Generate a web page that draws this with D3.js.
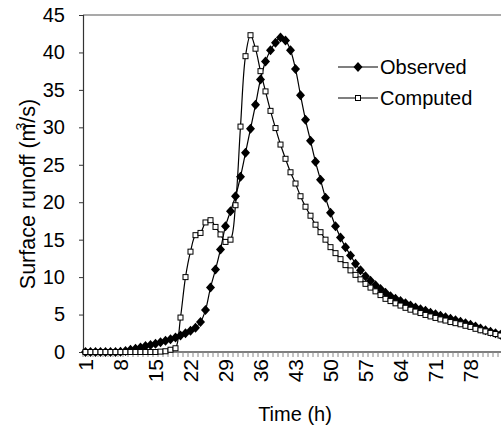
<!DOCTYPE html>
<html><head><meta charset="utf-8">
<script src="https://cdn.jsdelivr.net/npm/d3@7"></script>
<style>body{margin:0;background:#fff}svg{display:block;font-family:Arial,"Liberation Sans",sans-serif}</style>
</head><body>
<script>
const hours = [1,2,3,4,5,6,7,8,9,10,11,12,13,14,15,16,17,18,19,20,21,22,23,24,25,26,27,28,29,30,31,32,33,34,35,36,37,38,39,40,41,42,43,44,45,46,47,48,49,50,51,52,53,54,55,56,57,58,59,60,61,62,63,64,65,66,67,68,69,70,71,72,73,74,75,76,77,78,79,80,81,82,83,84];
const observed = [0,0,0,0,0,0,0,0.05,0.15,0.3,0.45,0.6,0.8,0.95,1.1,1.3,1.5,1.7,1.95,2.2,2.5,2.85,3.25,4.0,5.6,8.6,11.0,13.7,16.8,18.8,20.8,23.4,26.6,29.8,33.0,36.4,38.8,40.3,41.3,42.0,41.6,40.3,37.8,34.3,31.0,28.2,25.4,23.0,20.6,18.6,16.8,15.3,14.0,12.9,11.8,10.9,10.1,9.5,8.9,8.4,7.9,7.45,7.1,6.8,6.5,6.2,5.95,5.7,5.5,5.25,5.05,4.85,4.65,4.45,4.25,4.05,3.85,3.65,3.4,3.15,2.9,2.7,2.5,2.3];
const computed = [0,0,0,0,0,0,0,0,0,0,0,0,0,0,0,0.05,0.1,0.3,0.5,4.6,10.0,13.4,15.6,15.9,17.3,17.6,16.7,15.7,14.7,15.0,19.6,30.1,39.5,42.3,40.5,37.5,34.8,32.2,29.9,27.7,25.8,24.0,22.5,20.8,19.4,18.2,17.0,16.0,15.0,14.0,13.2,12.4,11.6,10.9,10.3,9.7,9.1,8.6,8.1,7.6,7.1,6.8,6.5,6.2,5.9,5.65,5.4,5.2,4.95,4.75,4.55,4.35,4.2,4.0,3.85,3.7,3.5,3.35,3.1,2.9,2.75,2.55,2.4,2.2];
const xTickLabels = [1,8,15,22,29,36,43,50,57,64,71,78];
const yTicks = [0,5,10,15,20,25,30,35,40,45];
const seriesNames = ["Observed","Computed"];

const W = 501, H = 430;
const pLeft = 83, pTop = 15, pBottom = 352, pRight = 503;
const svg = d3.select("body").append("svg").attr("width", W).attr("height", H);

const x = d3.scaleBand().domain(hours).range([pLeft, pRight]).padding(0);
const cx = d => x(d) + x.bandwidth() / 2;
const y = d3.scaleLinear().domain([0, 45]).range([pBottom, pTop]);

// plot border (top)
svg.append("line").attr("x1", pLeft).attr("x2", W).attr("y1", pTop).attr("y2", pTop)
  .attr("stroke", "#555").attr("stroke-width", 1.2);

// y axis
const yAxis = d3.axisLeft(y).tickValues(yTicks).tickSize(4).tickPadding(14);
const gy = svg.append("g").attr("transform", `translate(${pLeft},0)`).call(yAxis);
gy.select(".domain").attr("stroke", "#333").attr("stroke-width", 1.2);
gy.selectAll(".tick line").attr("stroke", "#333");
gy.selectAll("text").attr("font-size", 20).attr("fill", "#000").attr("font-family", "Arial, 'Liberation Sans', sans-serif");

// x axis line
svg.append("line").attr("x1", pLeft).attr("x2", W).attr("y1", pBottom).attr("y2", pBottom)
  .attr("stroke", "#000").attr("stroke-width", 1.2);
// minor ticks between categories
svg.append("g").selectAll("line").data(hours).join("line")
  .attr("x1", d => x(d)).attr("x2", d => x(d))
  .attr("y1", pBottom).attr("y2", pBottom + 5)
  .attr("stroke", "#888").attr("stroke-width", 1);
// x tick labels
svg.append("g").selectAll("text").data(xTickLabels).join("text")
  .attr("transform", d => `translate(${cx(d) + 7.5},${pBottom + 7}) rotate(-90)`)
  .attr("text-anchor", "end").attr("font-size", 21).text(d => d);

// titles
svg.append("text").attr("x", 295).attr("y", 421).attr("text-anchor", "middle")
  .attr("font-size", 20).text("Time (h)");
const yt = svg.append("text").attr("transform", "translate(35,194) rotate(-90)")
  .attr("text-anchor", "middle").attr("font-size", 21.5);
yt.append("tspan").text("Surface runoff (m");
yt.append("tspan").attr("font-size", 14).attr("dy", -9).attr("dx", -7).text("3");
yt.append("tspan").attr("dy", 9).text("/s)");

const line = d3.line().curve(d3.curveCatmullRom.alpha(0.5));
const gPlot = svg.append("g");

function drawSeries(vals, kind) {
  const pts = hours.map((h, i) => [cx(h), y(vals[i])]);
  gPlot.append("path").attr("d", line(pts)).attr("fill", "none").attr("stroke", "#000").attr("stroke-width", 1.2);
  if (kind === "diamond") {
    gPlot.append("g").selectAll("path").data(pts).join("path")
      .attr("d", d => `M${d[0]},${d[1]-5}L${d[0]+4.5},${d[1]}L${d[0]},${d[1]+5}L${d[0]-4.5},${d[1]}Z`)
      .attr("fill", "#000");
  } else {
    gPlot.append("g").selectAll("rect").data(pts).join("rect")
      .attr("x", d => d[0]-2.5).attr("y", d => d[1]-2.5).attr("width", 5).attr("height", 5)
      .attr("fill", "#fff").attr("stroke", "#000").attr("stroke-width", 1);
  }
}
drawSeries(observed, "diamond");
drawSeries(computed, "square");

// legend
const lg = svg.append("g");
[[seriesNames[0], 67, "diamond"], [seriesNames[1], 98, "square"]].forEach(([name, ly, kind]) => {
  lg.append("line").attr("x1", 338).attr("x2", 378).attr("y1", ly).attr("y2", ly).attr("stroke", "#000").attr("stroke-width", 1.2);
  if (kind === "diamond") {
    lg.append("path").attr("d", `M358,${ly-5}L362.5,${ly}L358,${ly+5}L353.5,${ly}Z`).attr("fill", "#000");
  } else {
    lg.append("rect").attr("x", 355.5).attr("y", ly-2.5).attr("width", 5).attr("height", 5).attr("fill", "#fff").attr("stroke", "#000");
  }
  lg.append("text").attr("x", 380).attr("y", ly + 7).attr("font-size", 20).text(name);
});
</script>
</body></html>
